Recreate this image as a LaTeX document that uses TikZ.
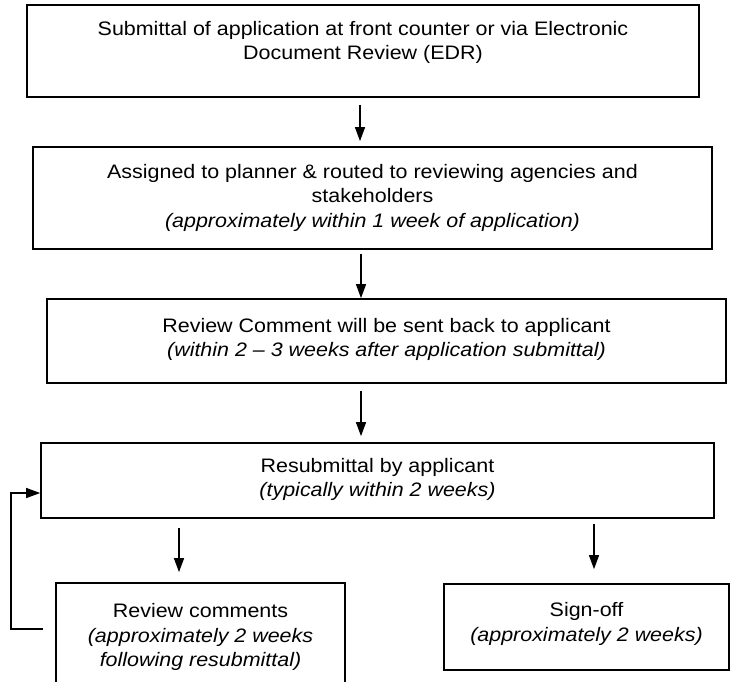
\documentclass[tikz,border=0pt]{standalone}
\usepackage{fontspec}
\setmainfont[FakeStretch=1.1]{Liberation Sans}
\usetikzlibrary{arrows.meta,calc}
\begin{document}
\begin{tikzpicture}[x=1pt,y=-1pt,
  box/.style={draw,line width=1.7pt,inner sep=0pt},
  txt/.style={align=center,font=\fontsize{19.5}{24.5}\selectfont,inner sep=0pt},
  arr/.style={line width=1.3pt,-{Triangle[length=14pt,width=10pt]}}]
\useasboundingbox (0,0) rectangle (730,681);
% boxes
\node[box,minimum width=672pt,minimum height=92pt] (b1) at (363,51) {};
\node[txt] (t1) at (363,42.5) {Submittal of application at front counter or via Electronic\\Document Review (EDR)};
\node[box,minimum width=679pt,minimum height=102pt] (b2) at (372.5,198) {};
\node[txt] (t2) at (372.5,197.5) {Assigned to planner \& routed to reviewing agencies and\\stakeholders\\\textit{(approximately within 1 week of application)}};
\node[box,minimum width=679pt,minimum height=84pt] (b3) at (386.5,341) {};
\node[txt] (t3) at (386.5,339.5) {Review Comment will be sent back to applicant\\\textit{(within 2 – 3 weeks after application submittal)}};
\node[box,minimum width=673pt,minimum height=75pt] (b4) at (377.5,480.5) {};
\node[txt] (t4) at (377.5,479.5) {Resubmittal by applicant\\\textit{(typically within 2 weeks)}};
\node[box,minimum width=289pt,minimum height=137pt] (b5) at (200.5,651.5) {};
\node[txt] (t5) at (200.5,637) {Review comments\\\textit{(approximately 2 weeks}\\\textit{following resubmittal)}};
\node[box,minimum width=285pt,minimum height=86pt] (b6) at (586.5,627) {};
\node[txt] (t6) at (586.5,624) {Sign-off\\\textit{(approximately 2 weeks)}};
% arrow x positions
\coordinate (c1) at (360,0);
\coordinate (c2) at (361,0);
\coordinate (c3) at (179,0);
\coordinate (c4) at (594,0);
\coordinate (lx) at (11,629);
\draw[arr] ([yshift=-7pt]b1.south -| c1) -- ([yshift=5pt]b2.north -| c1);
\draw[arr] ([yshift=-4pt]b2.south -| c2) -- (b3.north -| c2);
\draw[arr] ([yshift=-7pt]b3.south -| c2) -- ([yshift=6pt]b4.north -| c2);
\draw[arr] ([yshift=-9pt]b4.south -| c3) -- ([yshift=10pt]b5.north -| c3);
\draw[arr] ([yshift=-5pt]b4.south -| c4) -- ([yshift=14pt]b6.north -| c4);
\draw[arr] ([xshift=-12pt]b5.west |- lx) -- (lx) |- ([yshift=-12.5pt]b4.west);
\end{tikzpicture}
\end{document}
